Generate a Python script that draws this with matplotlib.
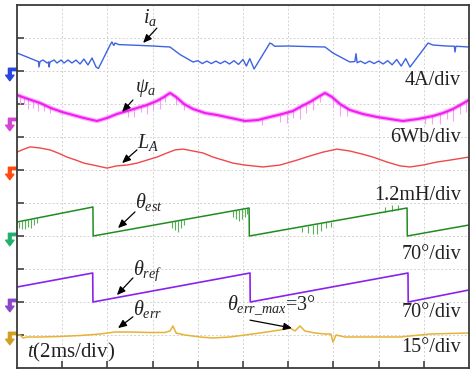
import numpy as np
import matplotlib
matplotlib.use("Agg")
import matplotlib.pyplot as plt
from matplotlib.path import Path

plt.rcParams['font.family'] = ['Liberation Serif', 'DejaVu Serif']
plt.rcParams['mathtext.fontset'] = 'custom'
plt.rcParams['mathtext.rm'] = 'Liberation Serif'
plt.rcParams['mathtext.it'] = 'Liberation Serif:italic'

# ---------------- data (time in ms) ----------------
ia_t = [0, 0.44, 0.88, 0.95, 0.97, 1.02, 1.15, 1.33, 1.40, 1.42, 1.46, 1.64, 1.77, 1.95, 2.08, 2.26,
        2.43, 2.61, 2.79, 2.96, 3.14, 3.32, 3.50, 3.60, 4.12, 4.20, 4.28, 4.34, 4.5, 5.0, 6.0, 6.77,
        7.21, 7.79, 8.0, 8.2, 8.4, 8.6, 8.8, 9.0, 9.2, 9.4, 9.6, 9.8, 10.0, 10.15, 10.3, 10.49,
        11.19, 11.28, 11.4, 12.0, 13.0, 13.63, 13.98, 14.73, 14.95, 15.0, 15.05, 15.2, 15.4, 15.6,
        15.8, 16.0, 16.2, 16.4, 16.6, 16.8, 17.0, 17.2, 17.39, 18.19, 18.4, 19.0, 19.35, 19.38,
        19.42, 20.0]
ia_A = [2.18, 1.70, 1.21, 1.15, 0.48, 1.15, 1.33, 0.97, 1.10, 0.48, 1.09, 1.33, 0.97, 1.33, 0.97, 1.33,
        0.97, 1.33, 0.85, 1.45, 0.73, 1.58, 0.48, 0.30, 3.15, 3.52, 3.10, 3.39, 3.20, 3.15, 3.03, 2.91,
        2.00, 1.09, 1.25, 0.90, 1.20, 0.90, 1.20, 0.90, 1.20, 0.85, 1.25, 0.80, 1.40, 0.60, 1.50, 0.24,
        3.39, 3.27, 3.00, 3.03, 2.95, 2.91, 2.18, 1.09, 1.15, 2.10, 1.00, 1.20, 0.90, 1.20,
        0.90, 1.20, 0.85, 1.25, 0.75, 1.40, 0.60, 1.50, 0.48, 3.39, 3.15, 3.03, 3.00, 2.30,
        3.00, 2.91]

psi_t = [0, 0.49, 1.02, 1.50, 1.99, 2.48, 2.96, 3.54, 3.98, 4.42, 4.87, 5.31, 5.75, 6.19, 6.50,
         6.77, 7.04, 7.39, 7.79, 8.32, 8.85, 9.47, 10.09, 10.66, 11.19, 11.73, 12.21, 12.61,
         12.96, 13.32, 13.63, 13.94, 14.29, 14.73, 15.31, 15.93, 16.50, 17.08, 17.74, 18.41,
         18.85, 19.29, 19.69, 20.0]
psi_Wb = [4.64, 3.91, 3.18, 2.27, 1.55, 1.0, 0.45, -0.09, 0.45, 1.18, 1.73, 2.27, 2.82, 3.55, 4.27,
          5.0, 4.27, 3.0, 2.09, 1.36, 1.0, 0.45, -0.09, 0.09, 0.64, 1.18, 1.73, 2.64,
          3.36, 4.27, 5.0, 4.27, 3.0, 1.91, 1.18, 0.64, 0.27, -0.09, 0.27, 0.82,
          1.36, 2.09, 3.0, 3.73]
psi_spike_t = [0.13, 0.31, 0.49, 0.71, 0.93, 1.19, 1.46, 4.91, 5.18, 5.49, 5.75, 6.02, 6.33, 6.55,
               7.04, 7.39, 10.84, 11.64, 11.95, 12.21, 12.52, 12.79, 13.10, 13.41, 13.98, 14.29,
               14.60, 18.05, 18.36, 18.72, 19.03, 19.29, 19.60, 19.87]
psi_spike_Wb = [-1.45, -1.1, -1.8, -1.3, -1.6, -1.1, -0.9, -1.1, -1.45, -0.9, -1.6, -1.3, -1.8, -1.1,
                -1.45, -1.1, -1.1, -1.45, -1.8, -1.3, -2.2, -1.6, -1.8, -1.1, -1.8, -2.2,
                -1.45, -1.1, -1.45, -1.8, -1.45, -2.2, -1.6, -1.8]

L_t = [0, 0.31, 0.58, 1.02, 1.46, 1.81, 2.21, 2.61, 2.96, 3.54, 3.98, 4.42, 4.87, 5.31, 5.75, 6.19,
       6.64, 6.99, 7.35, 7.79, 8.23, 8.67, 9.12, 9.56, 10.09, 10.88, 11.64, 12.39, 12.96, 13.54,
       14.16, 14.73, 15.27, 15.75, 16.37, 16.95, 17.39, 17.96, 18.58, 19.16, 20.0]
L_mH = [0.65, 0.76, 0.84, 0.80, 0.73, 0.62, 0.47, 0.36, 0.25, 0.15, 0.07, 0.15, 0.18, 0.25, 0.36, 0.47,
        0.62, 0.73, 0.76, 0.69, 0.62, 0.47, 0.36, 0.25, 0.18, 0.11, 0.18, 0.36, 0.51, 0.65,
        0.76, 0.69, 0.58, 0.47, 0.29, 0.15, 0.11, 0.18, 0.29, 0.36, 0.47]

est_t = [0, 3.36, 3.37, 10.27, 10.28, 17.26, 17.27, 20.0]
est_deg = [29.7, 61.5, 0.0, 59.4, 0.0, 59.4, 0.0, 23.3]
est_spike_t = [0.09, 0.22, 0.35, 0.49, 0.62, 0.75, 0.88, 6.86, 6.99, 7.12, 7.26, 7.39, 9.56, 9.69,
               9.82, 9.96, 10.09, 10.18, 12.61, 12.88, 13.10, 13.27, 13.45, 13.67, 13.89, 16.28,
               16.59, 16.86]
est_spike_deg = [-12.7, -17, -19, -14.8, -19, -12.7, -10.6, -12.7, -19, -23, -17, -10.6, -12.7, -19,
                 -23, -21, -17, -12.7, -10.6, -14.8, -19, -21, -17, -12.7, -10.6, 10, 12, 10]

ref_t = [0, 3.35, 3.36, 10.31, 10.32, 17.30, 17.31, 20.0]
ref_deg = [31.8, 61.5, 0.0, 61.5, 0.0, 61.5, 0.0, 25.5]

err_t = [0, 0.13, 0.27, 0.44, 1.02, 1.90, 2.79, 3.67, 4.34, 5.0, 5.88, 6.55, 6.77, 6.90, 7.04,
         7.43, 8.10, 8.67, 9.42, 10.75, 11.64, 12.08, 12.30, 12.52, 12.74, 13.19, 13.63, 13.89,
         13.98, 14.12, 14.51, 15.62, 16.95, 18.27, 20.0]
err_deg = [0, 0, -1.36, -0.91, -0.91, -0.68, -0.23, 0.45, 1.36, 1.36, 1.14, 1.14, 1.82, 4.09, 0.91,
           0, -0.91, -1.36, -0.91, 0.91, 2.27, 3.18, 1.82, 4.09, 1.82, 0.91, 0.45, 0.45,
           -3.18, 0, -0.91, -0.91, -0.91, 0.45, 0.91]

scale_labels = ["4A/div", "6Wb/div", "1.2mH/div", "70°/div", "70°/div", "15°/div"]

# ---------------- channel layout ----------------
ch = {
    'ia':  dict(g=9.0, s=4.0, c='#3d63e0', lw=1.0, mc='#2845e0'),
    'psi': dict(g=7.5, s=6.0, c='#f21cf2', lw=1.5, mc='#d247d2'),
    'L':   dict(g=6.0, s=1.2, c='#f04848', lw=1.0, mc='#ff4a10'),
    'est': dict(g=4.0, s=70.0, c='#1f8c1f', lw=1.1, mc='#22b070'),
    'ref': dict(g=2.0, s=70.0, c='#8a22ee', lw=1.2, mc='#8848c8'),
    'err': dict(g=1.0, s=15.0, c='#e8b234', lw=1.1, mc='#d0a020'),
}

def ydiv(key, v):
    return ch[key]['g'] + np.asarray(v, dtype=float) / ch[key]['s']

W, H = 471, 371
fig = plt.figure(figsize=(W / 100, H / 100), dpi=100)
ax = fig.add_axes([17 / W, 3 / H, 452 / W, 363 / H])
ax.set_xlim(0, 20)
ax.set_ylim(0, 11)

ax.set_xticks(np.arange(2, 20, 2))
ax.set_yticks(np.arange(1, 11, 1))
ax.grid(True, color='#d2d2d2', linestyle=(0, (2, 2)), linewidth=0.7)
ax.tick_params(axis='both', direction='in', length=5, width=1.3, color='#505050',
               labelleft=False, labelbottom=False)
for sp in ax.spines.values():
    sp.set_color('#3a3a3a')
    sp.set_linewidth(1.3)

# traces
ax.plot(ia_t, ydiv('ia', ia_A), color=ch['ia']['c'], lw=ch['ia']['lw'])
pb = np.interp(psi_spike_t, psi_t, psi_Wb)
ax.vlines(psi_spike_t, ydiv('psi', pb), ydiv('psi', pb + np.array(psi_spike_Wb)),
          color='#f7a0f7', lw=0.8)
ax.plot(psi_t, ydiv('psi', psi_Wb), color=ch['psi']['c'], lw=3.2, alpha=0.35,
        solid_joinstyle='round')
ax.plot(psi_t, ydiv('psi', psi_Wb), color=ch['psi']['c'], lw=ch['psi']['lw'],
        solid_joinstyle='round')
ax.plot(L_t, ydiv('L', L_mH), color=ch['L']['c'], lw=ch['L']['lw'])
eb = np.interp(est_spike_t, est_t, est_deg)
ax.vlines(est_spike_t, ydiv('est', eb), ydiv('est', eb + np.array(est_spike_deg)),
          color='#58b058', lw=0.8)
ax.plot(est_t, ydiv('est', est_deg), color=ch['est']['c'], lw=ch['est']['lw'])
ax.plot(ref_t, ydiv('ref', ref_deg), color=ch['ref']['c'], lw=ch['ref']['lw'])
ax.plot(err_t, ydiv('err', err_deg), color=ch['err']['c'], lw=ch['err']['lw'])

# ground markers
gverts = [(-0.3, 0.9), (0.9, 0.9), (0.9, 0.55), (0.1, 0.55), (0.1, -0.1), (0.5, -0.1),
          (-0.1, -0.9), (-0.7, -0.1), (-0.3, -0.1), (-0.3, 0.9)]
gmark = Path(gverts, closed=True)
for k in ch:
    ax.plot([-0.33], [ch[k]['g'] - 0.1], marker=gmark, markersize=9, color=ch[k]['mc'],
            clip_on=False, linestyle='none')

# scale labels
lab_y = [8.58, 6.85, 5.09, 3.30, 1.55, 0.485]
for s, y in zip(scale_labels, lab_y):
    ax.text(19.65, y, s, ha='right', va='baseline', fontsize=14.5, color='#222222')

# channel names with arrows
names = [r'$i_a$', r'$\psi_a$', r'$L_A$', r'$\theta_{est}$', r'$\theta_{ref}$', r'$\theta_{err}$']
name_pos = [(5.58, 10.45), (5.22, 8.36), (5.31, 6.67), (5.22, 4.85), (5.13, 2.82), (5.13, 1.61)]
arrows = [((6.19, 10.30), (5.58, 9.85)), ((5.13, 8.12), (4.65, 7.76)), ((5.31, 6.61), (4.65, 6.21)),
          ((5.22, 4.73), (4.47, 4.24)), ((5.13, 2.73), (4.42, 2.21)), ((5.13, 1.55), (4.47, 1.21))]
for n, p in zip(names, name_pos):
    ax.text(p[0], p[1], n, ha='left', va='baseline', fontsize=14.5, color='#222222')
for a, b in arrows + [((10.31, 1.45), (12.17, 1.21))]:
    ax.annotate('', xy=b, xytext=a,
                arrowprops=dict(arrowstyle='-|>,head_length=0.5,head_width=0.22',
                                color='black', lw=0.9, shrinkA=0, shrinkB=0))
ax.text(9.29, 1.76, r'$\theta_{err\_max}$=3°', ha='left', va='baseline', fontsize=14.5,
        color='#222222')
ax.text(0.44, 0.33, r'$t$(2ms/div)', ha='left', va='baseline', fontsize=15, color='#222222')

fig.savefig('out.png', dpi=100)
